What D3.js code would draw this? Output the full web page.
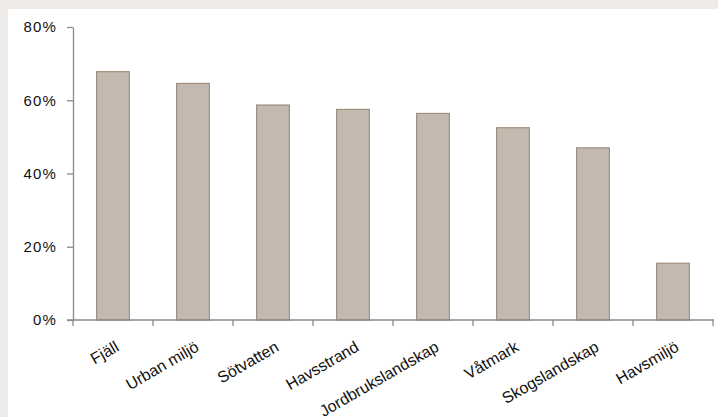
<!DOCTYPE html>
<html><head><meta charset="utf-8">
<script src="https://cdn.jsdelivr.net/npm/d3@7"></script>
<style>
html,body{margin:0;padding:0;background:#efebe8;}
svg{display:block;}
text{font-family:"Liberation Sans",Arial,Helvetica,sans-serif;fill:#111;}
</style></head><body>
<svg id="c" width="718" height="417"></svg>
<script>
const categories = ["Fjäll","Urban miljö","Sötvatten","Havsstrand","Jordbrukslandskap","Våtmark","Skogslandskap","Havsmiljö"];
const values = [0.678,0.646,0.587,0.575,0.564,0.525,0.470,0.155];
const yTicks = [0,0.2,0.4,0.6,0.8];

const svg = d3.select("#c");
svg.append("rect").attr("x",8).attr("y",9).attr("width",710).attr("height",408).attr("fill","#ffffff");

const x = d3.scaleBand().domain(categories).range([73,713]).paddingInner(0.59).paddingOuter(0.295);
const y = d3.scaleLinear().domain([0,0.8]).range([320,27]);

// y axis
const ya = svg.append("g").attr("transform","translate(73,0)")
  .call(d3.axisLeft(y).tickValues(yTicks).tickFormat(d3.format(".0%")).tickSize(6).tickSizeOuter(0));
ya.select(".domain").attr("stroke","#8a8a8a").attr("stroke-width",1.3);
ya.selectAll(".tick line").attr("stroke","#8a8a8a").attr("stroke-width",1.3);
ya.selectAll(".tick text").attr("x",-16).attr("font-size","15px").attr("letter-spacing","1.2px")
  .attr("fill","#111").style("font-family","'Liberation Sans',Arial,sans-serif");

// bars
svg.append("g").selectAll("rect").data(categories).join("rect")
  .attr("x",d=>x(d)).attr("width",x.bandwidth())
  .attr("y",(d,i)=>y(values[i])).attr("height",(d,i)=>y(0)-y(values[i]))
  .attr("fill","#c4b9af").attr("stroke","#a08f80").attr("stroke-width",1.2);

// x axis
const xStep = x.step();
const xa = svg.append("g").attr("transform","translate(0,320)");
xa.append("line").attr("x1",67).attr("x2",714).attr("y1",0).attr("y2",0).attr("stroke","#8a8a8a").attr("stroke-width",1.3);
const bounds = d3.range(categories.length+1).map(i=>73+i*xStep);
xa.selectAll("line.t").data(bounds).join("line").attr("class","t")
  .attr("x1",d=>d).attr("x2",d=>d).attr("y1",0).attr("y2",6)
  .attr("stroke","#8a8a8a").attr("stroke-width",1.3);
xa.selectAll("text").data(categories).join("text")
  .attr("transform",d=>`translate(${x(d)+x.bandwidth()/2+7},${30}) rotate(-30)`)
  .attr("text-anchor","end")
  .attr("font-size","16px")
  .text(d=>d);
</script>
</body></html>
